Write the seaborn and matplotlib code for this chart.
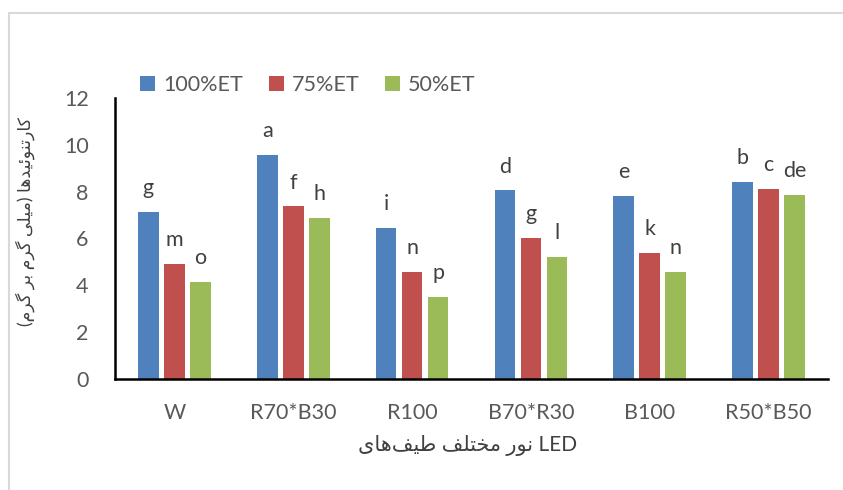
import pandas as pd
import numpy as np
import matplotlib.pyplot as plt
import seaborn as sns
from matplotlib.patches import Rectangle

# Chart data
categories = ['W', 'R70*B30', 'R100', 'B70*R30', 'B100', 'R50*B50']
series_names = ['100%ET', '75%ET', '50%ET']
et100 = [7.15, 9.55, 6.45, 8.05, 7.80, 8.40]
et75 = [4.92, 7.37, 4.57, 6.04, 5.40, 8.13]
et50 = [4.13, 6.86, 3.49, 5.23, 4.58, 7.85]
letters_100 = ['g', 'a', 'i', 'd', 'e', 'b']
letters_75 = ['m', 'f', 'n', 'g', 'k', 'c']
letters_50 = ['o', 'h', 'p', 'l', 'n', 'de']
colors = ['#4F81BD', '#C0504D', '#9BBB59']

# Minimal Persian shaping (matplotlib has no complex text layout)
# isolated, final, initial, medial
FORMS = {
    'ا': ('\uFE8D', '\uFE8E', None, None),
    'ب': ('\uFE8F', '\uFE90', '\uFE91', '\uFE92'),
    'ت': ('\uFE95', '\uFE96', '\uFE97', '\uFE98'),
    'خ': ('\uFEA5', '\uFEA6', '\uFEA7', '\uFEA8'),
    'د': ('\uFEA9', '\uFEAA', None, None),
    'ر': ('\uFEAD', '\uFEAE', None, None),
    'ط': ('\uFEC1', '\uFEC2', '\uFEC3', '\uFEC4'),
    'ف': ('\uFED1', '\uFED2', '\uFED3', '\uFED4'),
    'ل': ('\uFEDD', '\uFEDE', '\uFEDF', '\uFEE0'),
    'م': ('\uFEE1', '\uFEE2', '\uFEE3', '\uFEE4'),
    'ن': ('\uFEE5', '\uFEE6', '\uFEE7', '\uFEE8'),
    'ه': ('\uFEE9', '\uFEEA', '\uFEEB', '\uFEEC'),
    'و': ('\uFEED', '\uFEEE', None, None),
    'ئ': ('\uFE89', '\uFE8A', '\uFE8B', '\uFE8C'),
    'ک': ('\uFB8E', '\uFB8F', '\uFB90', '\uFB91'),
    'گ': ('\uFB92', '\uFB93', '\uFB94', '\uFB95'),
    'ی': ('\uFBFC', '\uFBFD', '\uFBFE', '\uFBFF'),
}


def rtl(text):
    out = []
    for i, c in enumerate(text):
        if c not in FORMS:
            if c != '\u200c':
                out.append(c)
            continue
        prev = text[i - 1] if i > 0 else None
        nxt = text[i + 1] if i + 1 < len(text) else None
        join_prev = prev in FORMS and FORMS[prev][2] is not None
        join_next = nxt in FORMS and FORMS[c][2] is not None
        iso, fin, ini, med = FORMS[c]
        if join_prev and join_next:
            out.append(med)
        elif join_prev:
            out.append(fin)
        elif join_next:
            out.append(ini)
        else:
            out.append(iso)
    vis = ''.join(reversed(out))
    return vis.translate(str.maketrans('()', ')('))


ylabel = rtl('کارتنوئیدها (میلی گرم بر گرم)')
xlabel = ' '.join(rtl(w) for w in ['طیف\u200cهای', 'مختلف', 'نور']) + ' LED'

df = pd.DataFrame({'light': categories, '100%ET': et100, '75%ET': et75, '50%ET': et50})
df = df.melt(id_vars='light', var_name='irrigation', value_name='value')

sns.set_theme(style='white')
plt.rcParams['font.family'] = ['Lato', 'DejaVu Sans']

fig = plt.figure(figsize=(8.43, 4.90), dpi=100)
ax = fig.add_axes([115 / 843, 111 / 490, 713 / 843, 281 / 490])

# chart area border
fig.patches.append(Rectangle((9 / 843, -0.2), 1.2, 0.2 + (490 - 13) / 490,
                             transform=fig.transFigure, fill=False,
                             edgecolor='#D9D9D9', linewidth=1.5))

sns.barplot(data=df, x='light', y='value', hue='irrigation', hue_order=series_names,
            palette=colors, width=0.656, gap=0.2, linewidth=0, saturation=1, ax=ax)

for cont, labs in zip(ax.containers, [letters_100, letters_75, letters_50]):
    ax.bar_label(cont, labels=labs, padding=10, fontsize=15.5, color='#404040')

ax.set_ylim(0, 12)
ax.set_xlim(-0.5, 5.5)
ax.set_yticks(np.arange(0, 13, 2))
ax.tick_params(axis='both', length=0, labelsize=15.5, labelcolor='#595959')
ax.tick_params(axis='x', pad=17)
ax.tick_params(axis='y', pad=19)
sns.despine(ax=ax)
for s in ['left', 'bottom']:
    ax.spines[s].set_color('black')
    ax.spines[s].set_linewidth(1.8)

ax.set_xlabel(xlabel, fontsize=15, color='#404040')
ax.set_ylabel(ylabel, fontsize=12.5, color='#404040')
ax.xaxis.set_label_coords(0.495, -0.2)
ax.yaxis.set_label_coords(-0.112, 0.56)

leg = ax.legend(loc='center left', bbox_to_anchor=(140 / 843, (490 - 85) / 490),
                bbox_transform=fig.transFigure, ncol=3, frameon=False,
                fontsize=15.5, handlelength=0.7, handleheight=0.7,
                handletextpad=0.37, columnspacing=1.2, borderpad=0, borderaxespad=0)
for t in leg.get_texts():
    t.set_color('#595959')

fig.savefig('out.png', dpi=100)
